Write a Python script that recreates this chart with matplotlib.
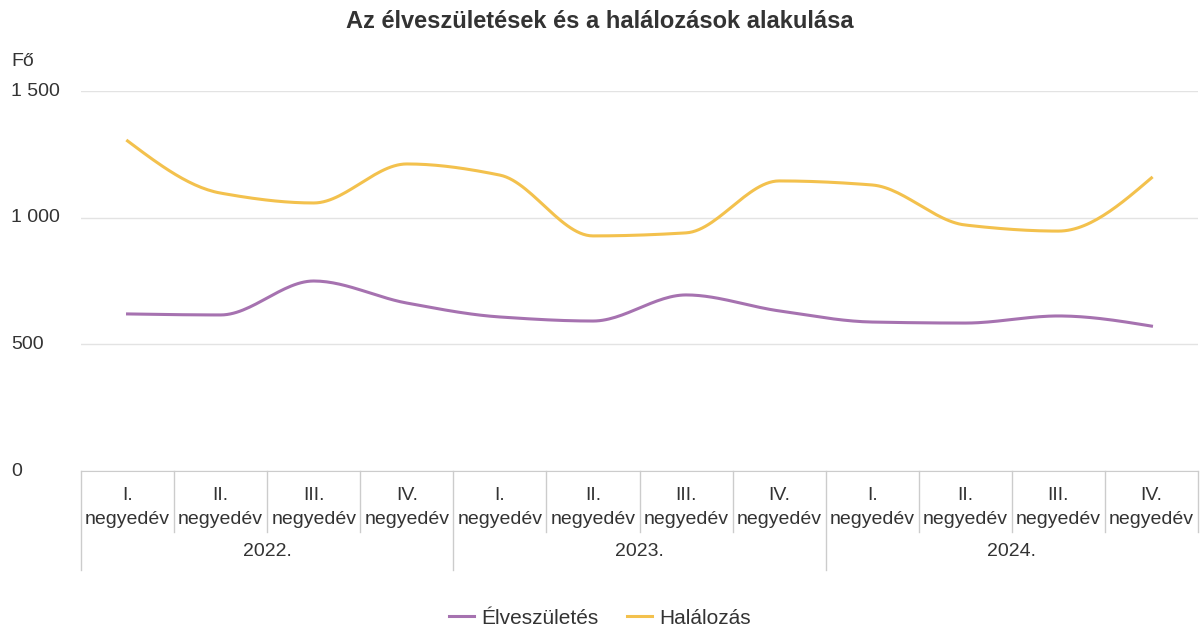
import numpy as np
import matplotlib.pyplot as plt
from matplotlib.transforms import blended_transform_factory

plt.rcParams['font.family'] = ['Liberation Sans', 'DejaVu Sans']

years = ['2022.', '2023.', '2024.']
quarters = ['I.', 'II.', 'III.', 'IV.']
births = [620, 616, 750, 663, 608, 592, 695, 632, 588, 584, 612, 572]
deaths = [1303, 1097, 1058, 1212, 1168, 928, 940, 1145, 1129, 971, 947, 1157]
yticks = [0, 500, 1000, 1500]
ylabels = ['0', '500', '1 000', '1 500']

purple = '#a672b0'
yellow = '#f3c14d'
grid_c = '#e3e3e3'
axis_c = '#cccccc'
text_c = '#333333'


def monotone(x, y, n=30):
    # monotone cubic (Fritsch-Carlson) like d3 curveMonotoneX
    x = np.asarray(x, float)
    y = np.asarray(y, float)
    h = np.diff(x)
    d = np.diff(y) / h
    m = np.zeros_like(y)
    for i in range(1, len(y) - 1):
        if d[i - 1] * d[i] > 0:
            w1 = 2 * h[i] + h[i - 1]
            w2 = h[i] + 2 * h[i - 1]
            m[i] = (w1 + w2) / (w1 / d[i - 1] + w2 / d[i])
    m[0] = (3 * d[0] - m[1]) / 2 if d[0] * (3 * d[0] - m[1]) > 0 else 0
    m[-1] = (3 * d[-1] - m[-2]) / 2 if d[-1] * (3 * d[-1] - m[-2]) > 0 else 0
    xs, ys = [], []
    for i in range(len(x) - 1):
        t = np.linspace(0, 1, n)
        h00 = 2 * t**3 - 3 * t**2 + 1
        h10 = t**3 - 2 * t**2 + t
        h01 = -2 * t**3 + 3 * t**2
        h11 = t**3 - t**2
        xs.append(x[i] + t * h[i])
        ys.append(h00 * y[i] + h10 * h[i] * m[i] + h01 * y[i + 1] + h11 * h[i] * m[i + 1])
    return np.concatenate(xs), np.concatenate(ys)


fig = plt.figure(figsize=(12, 6.29), dpi=100)
ax = fig.add_axes([81 / 1200, 1 - 471 / 629, (1198 - 81) / 1200, 380 / 629])

n = len(births)
xpos = np.arange(n)
bx, by = monotone(xpos, births)
dx, dy = monotone(xpos, deaths)
ax.plot(bx, by, color=purple, lw=2.2, label='Élveszületés')
ax.plot(dx, dy, color=yellow, lw=2.2, label='Halálozás')

ax.set_xlim(-0.5, n - 0.5)
ax.set_ylim(0, 1500)
ax.set_yticks(yticks)
ax.set_yticklabels([])
ax.grid(axis='y', color=grid_c, lw=1)
ax.set_axisbelow(True)
for s in ['top', 'right', 'left']:
    ax.spines[s].set_visible(False)
ax.spines['bottom'].set_color(axis_c)
ax.tick_params(axis='y', length=0)
ax.set_xticks([])

# y labels left-aligned at the figure edge
ytrans = blended_transform_factory(fig.transFigure, ax.transData)
for v, lab in zip(yticks, ylabels):
    ax.text(11 / 1200, v, lab, transform=ytrans, ha='left', va='center',
            fontsize=14, color=text_c)

# category axis below plot
trans = ax.get_xaxis_transform()
px = 1 / 380  # one pixel in axes-y units
for i in range(n):
    ax.text(i, -24 * px, quarters[i % 4], transform=trans, ha='center', va='center',
            fontsize=14, color=text_c)
    ax.text(i, -49 * px, 'negyedév', transform=trans, ha='center', va='center',
            fontsize=14, color=text_c)
for i in range(n + 1):
    bottom = -99 * px if i % 4 == 0 else -61 * px
    if i == n:
        bottom = -61 * px
    ax.plot([i - 0.5, i - 0.5], [0, bottom], transform=trans, color=axis_c, lw=1,
            clip_on=False)
for k, yr in enumerate(years):
    ax.text(4 * k + 1.5, -81 * px, yr, transform=trans, ha='center', va='center',
            fontsize=14, color=text_c)

fig.text(11 / 1200, 1 - 61 / 629, 'Fő', fontsize=14, color=text_c, va='center', ha='left')
fig.text(0.5, 1 - 21 / 629, 'Az élveszületések és a halálozások alakulása',
         fontsize=17, fontweight='bold', color=text_c, ha='center', va='center')

fig.legend(loc='center', bbox_to_anchor=(0.5, 1 - 618 / 629), ncol=2, frameon=False,
           fontsize=15, handlelength=1.2, columnspacing=1.4, handletextpad=0.35,
           labelcolor=text_c)

fig.savefig('out.png', dpi=100)
